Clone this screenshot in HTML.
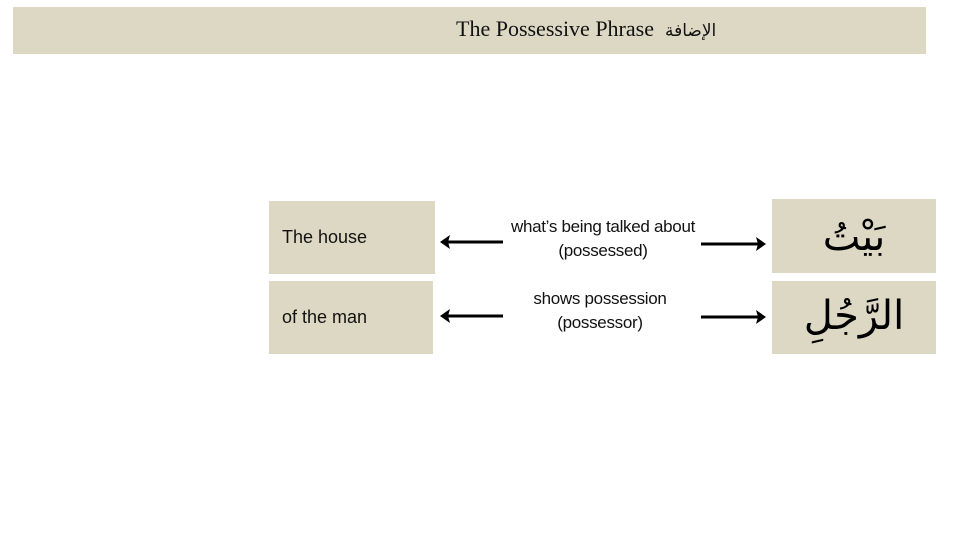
<!DOCTYPE html>
<html><head><meta charset="utf-8"><style>
body{margin:0;width:955px;height:546px;background:#fff;position:relative;overflow:hidden;font-family:"Liberation Sans",sans-serif}
.b{position:absolute;background:#ddd8c4}
.t{position:absolute;font-size:18px;color:#111;white-space:nowrap}
.c{position:absolute;font-size:17px;color:#111;text-align:center;line-height:24px;width:260px;letter-spacing:-0.3px}
.ar{position:absolute;font-family:"DejaVu Sans",serif;font-size:40px;color:#000;direction:rtl;text-align:center;width:164px}
</style></head><body>
<div class="b" style="left:13px;top:7px;width:913px;height:47px"></div>
<div class="t" style="left:456px;top:16px;font-family:'Liberation Serif',serif;font-size:22px">The Possessive Phrase&nbsp; <span style="font-family:'DejaVu Sans',serif;font-size:17px">الإضافة</span></div>
<div class="b" style="left:269px;top:201px;width:166px;height:73px"></div>
<div class="b" style="left:269px;top:281px;width:164px;height:73px"></div>
<div class="b" style="left:772px;top:199px;width:164px;height:74px"></div>
<div class="b" style="left:772px;top:281px;width:164px;height:73px"></div>
<div class="t" style="left:282px;top:227px">The house</div>
<div class="t" style="left:282px;top:307px">of the man</div>
<div class="c" style="left:473px;top:215px">what’s being talked about<br>(possessed)</div>
<div class="c" style="left:470px;top:287px">shows possession<br>(possessor)</div>
<div class="ar" style="left:772px;top:214px">بَيْتُ</div>
<div class="ar" style="left:772px;top:293px">الرَّجُلِ</div>
<svg width="955" height="546" style="position:absolute;left:0;top:0">
<g stroke="#000" stroke-width="3" fill="none">
<line x1="446" y1="242" x2="503" y2="242"/><line x1="701" y1="244" x2="760" y2="244"/>
<line x1="446" y1="316" x2="503" y2="316"/><line x1="701" y1="317" x2="760" y2="317"/>
</g>
<g fill="#000">
<polygon points="440,242 450,235 448,242 450,249"/>
<polygon points="766,244 756,237 758,244 756,251"/>
<polygon points="440,316 450,309 448,316 450,323"/>
<polygon points="766,317 756,310 758,317 756,324"/>
</g></svg>
</body></html>
